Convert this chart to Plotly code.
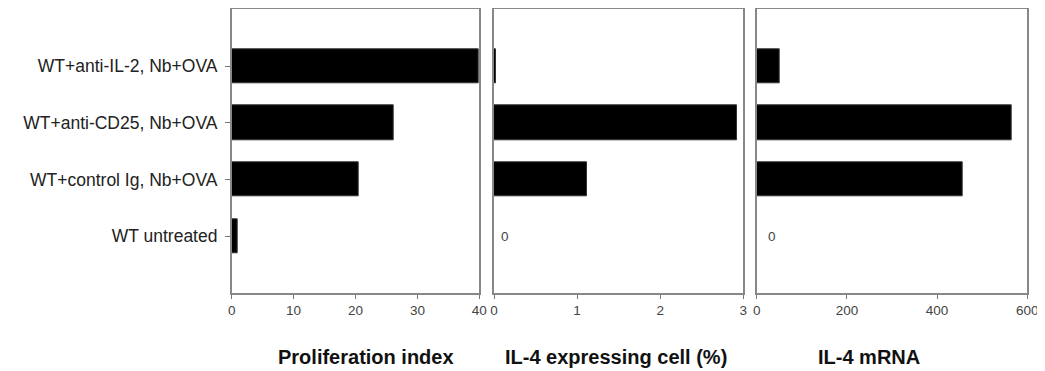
import plotly.graph_objects as go

categories = ["WT untreated", "WT+control Ig, Nb+OVA", "WT+anti-CD25, Nb+OVA", "WT+anti-IL-2, Nb+OVA"]
proliferation_index = [1.0, 20.5, 26.1, 39.9]
il4_expressing_pct = [0.0, 1.12, 2.93, 0.03]
il4_mrna = [0, 456, 565, 50]

panel_titles = ["Proliferation index", "IL-4 expressing cell (%)", "IL-4 mRNA"]
x_ranges = [[0, 40], [0, 3], [0, 600]]
x_tickvals = [[0, 10, 20, 30, 40], [0, 1, 2, 3], [0, 200, 400, 600]]
series = [proliferation_index, il4_expressing_pct, il4_mrna]

OFF = 8  # page body margin
W, H = 1045 - OFF, 371 - OFF


def px(x):
    return (x - OFF) / W


def py(y):
    return 1 - (y - OFF) / H


domains = [[px(231.7), px(479.3)], [px(494.0), px(743.3)], [px(756.7), px(1027.3)]]
ydom = [py(293.0), py(9.3)]
title_x = [px(366), px(616), px(869)]
zero_offsets = [None, 0.13, 33]

ypos = list(range(len(categories)))

fig = go.Figure()
font_family = "Liberation Sans, Arial, sans-serif"

for i, vals in enumerate(series):
    xa = "x" if i == 0 else f"x{i+1}"
    ya = "y" if i == 0 else f"y{i+1}"
    fig.add_trace(go.Bar(
        x=vals, y=ypos, orientation="h", width=0.6,
        marker=dict(color="black", line=dict(color="#333333", width=1)),
        xaxis=xa, yaxis=ya, showlegend=False, hoverinfo="x+y",
    ))
    axkey = "xaxis" if i == 0 else f"xaxis{i+1}"
    aykey = "yaxis" if i == 0 else f"yaxis{i+1}"
    fig.layout[axkey] = dict(
        domain=domains[i], range=x_ranges[i], tickvals=x_tickvals[i],
        ticks="outside", ticklen=4, tickwidth=1, tickcolor="#777777",
        showline=True, linecolor="#888888", linewidth=1.5, mirror=True,
        showgrid=False, zeroline=False, anchor=ya, automargin=False,
        ticklabeloverflow="allow",
        tickfont=dict(family=font_family, size=13.5, color="#444444"),
        fixedrange=True,
    )
    ycfg = dict(
        domain=ydom, range=[-1, 4], anchor=xa, automargin=False,
        showline=True, linecolor="#888888", linewidth=1.5, mirror=True,
        showgrid=False, zeroline=False, fixedrange=True,
    )
    if i == 0:
        ycfg.update(tickvals=ypos, ticktext=categories, ticks="outside", ticklen=5,
                    tickcolor="#777777", ticklabelstandoff=4,
                    tickfont=dict(family=font_family, size=17.5, color="#222222"))
    else:
        ycfg.update(showticklabels=False, ticks="")
    fig.layout[aykey] = ycfg

annotations = []
for i, t in enumerate(panel_titles):
    annotations.append(dict(
        text=t, x=title_x[i], y=py(357), xref="paper", yref="paper",
        xanchor="center", yanchor="middle", showarrow=False,
        font=dict(family=font_family, size=20, color="#111111", weight="bold"),
    ))
for i in (1, 2):
    xa = f"x{i+1}"
    ya = f"y{i+1}"
    for j, v in enumerate(series[i]):
        if v == 0:
            annotations.append(dict(
                text="0", x=zero_offsets[i], y=ypos[j], xref=xa, yref=ya,
                xanchor="center", yanchor="middle", showarrow=False,
                font=dict(family=font_family, size=13.5, color="#444444"),
            ))

fig.update_layout(
    width=W, height=H, margin=dict(l=0, r=0, t=0, b=0),
    paper_bgcolor="white", plot_bgcolor="white",
    annotations=annotations, bargap=0,
)

fig.write_html("out.html")
